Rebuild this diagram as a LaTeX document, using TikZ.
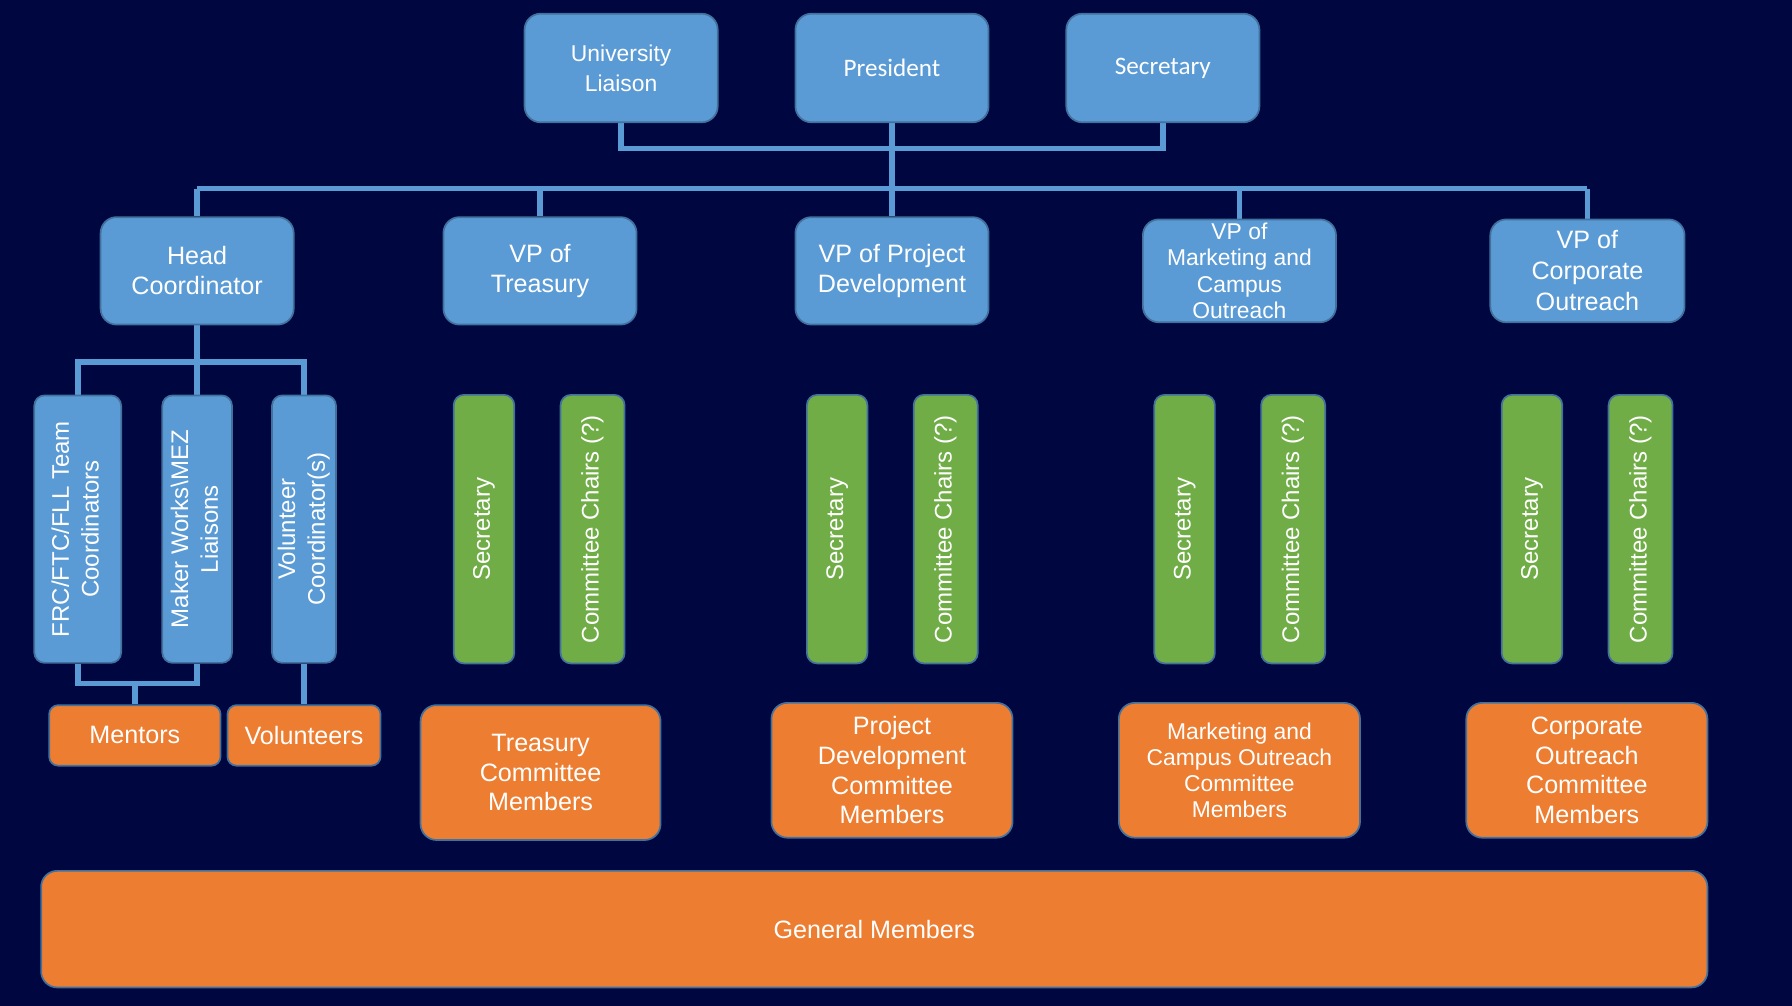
\documentclass[tikz,border=0pt]{standalone}
\usepackage{fontspec}
\setmainfont{Liberation Sans}
\newfontfamily\toprowfont{Carlito}
\usetikzlibrary{backgrounds}

\definecolor{bgnavy}{RGB}{0,6,64}
\definecolor{boxblue}{RGB}{91,155,213}
\definecolor{boxline}{RGB}{65,113,156}
\definecolor{boxgreen}{RGB}{112,173,71}
\definecolor{boxorange}{RGB}{237,125,49}

\newcommand{\bigtext}{\fontsize{22}{26}\selectfont}
\newcommand{\midtext}{\fontsize{20}{26}\selectfont}
\newcommand{\smalltext}{\fontsize{20}{23}\selectfont}
\newcommand{\vtext}[1]{\rotatebox{90}{\fontsize{21}{26}\selectfont\begin{tabular}{@{}c@{}}#1\end{tabular}}}

\tikzset{
  unit/.style={rectangle, rounded corners=14pt, draw=boxline, line width=1.5pt, text=white, align=center, inner sep=1pt},
  bluebox/.style={unit, fill=boxblue},
  vbluebox/.style={unit, fill=boxblue, rounded corners=9pt},
  greenbox/.style={unit, fill=boxgreen, rounded corners=9pt, minimum height=235},
  orangebox/.style={unit, fill=boxorange},
  link/.style={draw=boxblue, line width=5pt, line join=miter},
}

\begin{document}
\begin{tikzpicture}[x=1pt,y=1pt,yscale=-1]
\useasboundingbox (0,0) rectangle (1568,880);

% Top row
\node[bluebox, minimum width=169, minimum height=95, font=\midtext] (liaison) at (543.5,59.5) {University\\Liaison};
\node[bluebox, minimum width=169, minimum height=95, font=\toprowfont\bigtext] (pres) at (780.5,59.5) {President};
\node[bluebox, minimum width=169, minimum height=95, font=\toprowfont\bigtext] (secr) at (1017.5,59.5) {Secretary};

% Vice presidents
\node[bluebox, minimum width=169, minimum height=94, font=\bigtext] (head) at (172.5,237) {Head\\Coordinator};
\node[bluebox, minimum width=169, minimum height=94, font=\bigtext] (vptreas) at (472.5,237) {VP of\\Treasury};
\node[bluebox, minimum width=169, minimum height=94, font=\bigtext] (vpproj) at (780.5,237) {VP of Project\\Development};
\node[bluebox, minimum width=169, minimum height=90, font=\smalltext] (vpmark) at (1084.5,237) {VP of\\Marketing and\\Campus\\Outreach};
\node[bluebox, minimum width=170, minimum height=90, font=\fontsize{22}{27}\selectfont] (vpcorp) at (1389,237) {VP of\\Corporate\\Outreach};

% Coordinators
\node[vbluebox, minimum width=76, minimum height=234] (frc) at (68,463) {\vtext{FRC/FTC/FLL Team\\Coordinators}};
\node[vbluebox, minimum width=61, minimum height=234] (maker) at (172.5,463) {\vtext{Maker Works\textbackslash MEZ\\Liaisons}};
\node[vbluebox, minimum width=56, minimum height=234] (vol) at (266,463) {\vtext{Volunteer\\Coordinator(s)}};

% Secretaries and chairs
\foreach \name/\x in {treas/423.5, proj/732.5, mark/1036.5, corp/1340.5} {
  \node[greenbox, minimum width=53] (\name-sec) at (\x,463) {\vtext{Secretary}};
  \node[greenbox, minimum width=56] (\name-chairs) at (\x+95,463) {\vtext{Committee Chairs (?)}};
}

% Members
\node[orangebox, rounded corners=8pt, minimum width=150, minimum height=53, font=\bigtext] (mentors) at (118,643.5) {Mentors};
\node[orangebox, rounded corners=8pt, minimum width=134, minimum height=53, font=\bigtext] (volunteers) at (266,643.5) {Volunteers};
\node[orangebox, minimum width=210, minimum height=118, font=\bigtext] (treascm) at (473,676) {Treasury\\Committee\\Members};
\node[orangebox, minimum width=211, minimum height=118, font=\bigtext] (projcm) at (780.5,674) {Project\\Development\\Committee\\Members};
\node[orangebox, minimum width=211, minimum height=118, font=\smalltext] (markcm) at (1084.5,674) {Marketing and\\Campus Outreach\\Committee\\Members};
\node[orangebox, minimum width=211, minimum height=118, font=\bigtext] (corpcm) at (1388.5,674) {Corporate\\Outreach\\Committee\\Members};
\node[orangebox, minimum width=1458, minimum height=102, font=\bigtext] (general) at (765,813) {General Members};

\begin{scope}[on background layer]
\fill[bgnavy] (0,0) rectangle (1568,880);
% Connectors
\coordinate (topbus) at (0,130);
\coordinate (vpbus) at (0,165);
\coordinate (coordbus) at (0,317);
\coordinate (mentorbus) at (0,598);
\draw[link] (liaison.south) -- (liaison.south |- topbus) -- (secr.south |- topbus) -- (secr.south);
\draw[link] (pres.south) -- (vpproj.north);
\draw[link] (head.north |- vpbus) -- (vpcorp.north |- vpbus);
\foreach \n in {head,vptreas,vpmark,vpcorp}
  \draw[link] (\n.north) -- (\n.north |- vpbus);
\draw[link] (head.south) -- (maker.north);
\draw[link] (frc.north) -- (frc.north |- coordbus) -- (vol.north |- coordbus) -- (vol.north);
\draw[link] (frc.south) -- (frc.south |- mentorbus) -- (maker.south |- mentorbus) -- (maker.south);
\draw[link] (mentors.north) -- (mentors.north |- mentorbus);
\draw[link] (vol.south) -- (volunteers.north);
\end{scope}

\end{tikzpicture}
\end{document}
